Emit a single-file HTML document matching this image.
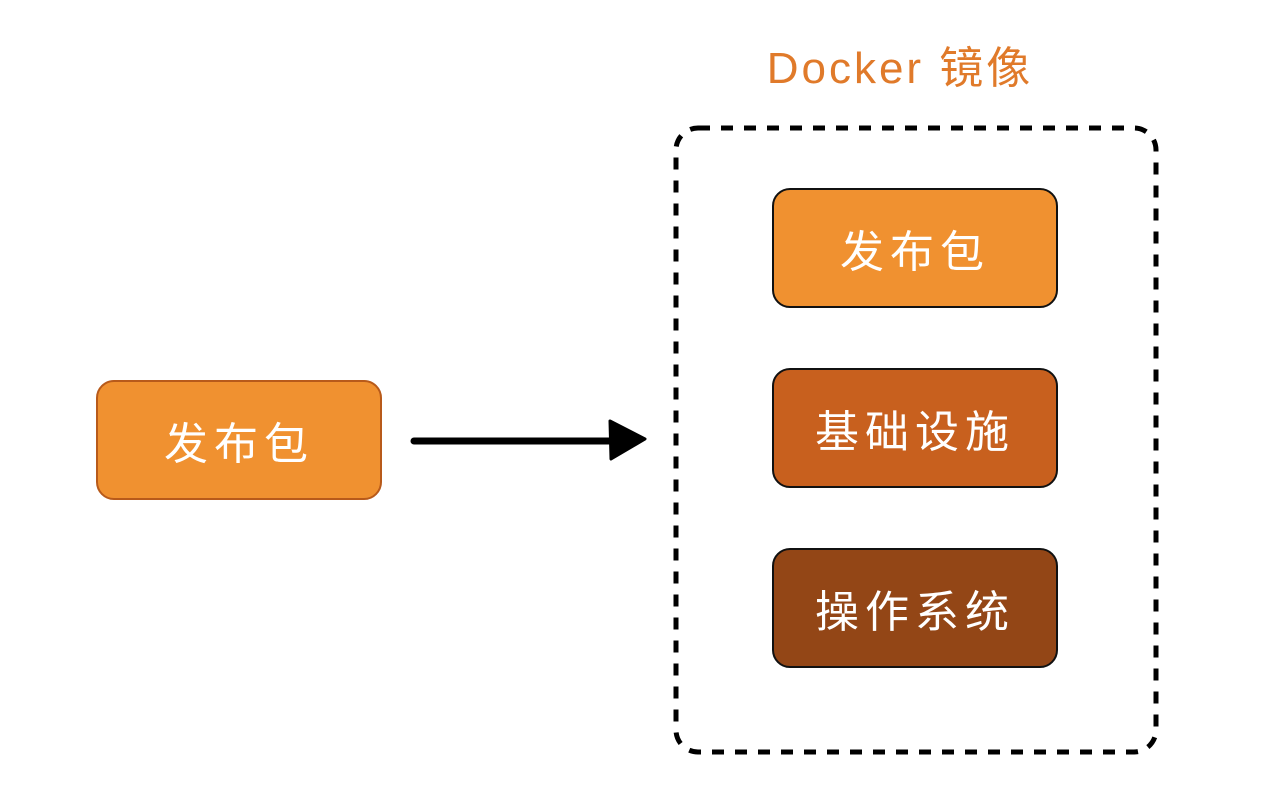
<!DOCTYPE html>
<html><head><meta charset="utf-8"><style>
body{margin:0;width:1266px;height:806px;background:#fff;position:relative;overflow:hidden;font-family:"Liberation Sans","Noto Sans CJK SC",sans-serif}
.b{position:absolute;width:282px;height:116px;border:2.5px solid #111;border-radius:18px;color:#fff;font-size:44px;display:flex;align-items:center;justify-content:center;letter-spacing:6px}
</style></head><body>
<div style="position:absolute;left:720px;top:32px;width:360px;text-align:center;color:#e07a2a;font-size:44px;letter-spacing:3px">Docker 镜像</div>
<svg width="1266" height="806" style="position:absolute;left:0;top:0">
<rect x="676" y="128" width="480" height="624" rx="22" fill="none" stroke="#000" stroke-width="5" stroke-dasharray="12 11"/>
<line x1="414" y1="441" x2="615" y2="441" stroke="#000" stroke-width="7" stroke-linecap="round"/>
<polygon points="610,421 645,439 611,459" fill="#000" stroke="#000" stroke-width="3" stroke-linejoin="round"/>
</svg>
<div class="b" style="left:96px;top:380px;background:#f09130;border-color:#b85a1a">发布包</div>
<div class="b" style="left:772px;top:188px;background:#f09130">发布包</div>
<div class="b" style="left:772px;top:368px;background:#c8601e">基础设施</div>
<div class="b" style="left:772px;top:548px;background:#934616">操作系统</div>
</body></html>
